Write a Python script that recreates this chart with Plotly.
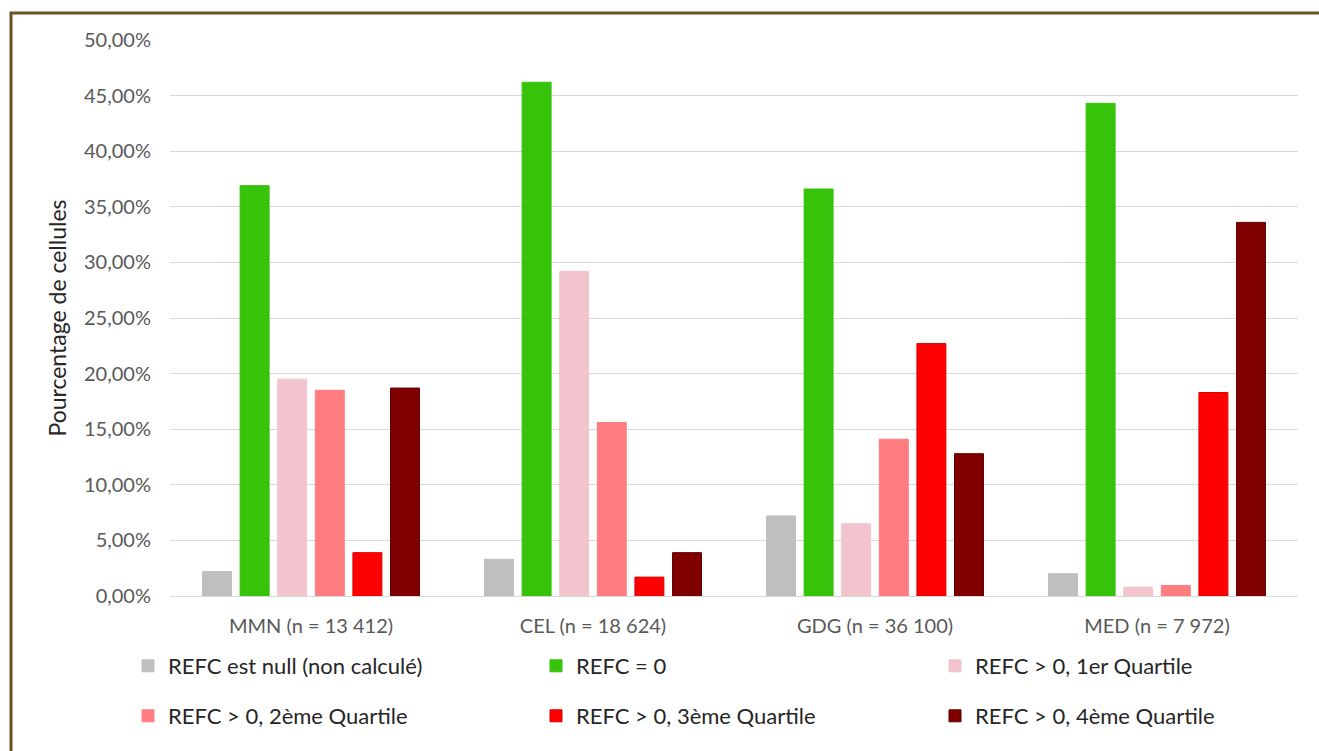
import plotly.graph_objects as go

# Sites and their cell counts
categories = ["MMN (n = 13 412)", "CEL (n = 18 624)", "GDG (n = 36 100)", "MED (n = 7 972)"]

# Share of cells per REFC class (fractions)
series_names = [
    "REFC est null (non calculé)",
    "REFC = 0",
    "REFC > 0, 1er Quartile",
    "REFC > 0, 2ème Quartile",
    "REFC > 0, 3ème Quartile",
    "REFC > 0, 4ème Quartile",
]
refc_null = [0.022, 0.033, 0.072, 0.020]
refc_zero = [0.369, 0.462, 0.366, 0.443]
refc_q1 = [0.195, 0.292, 0.065, 0.008]
refc_q2 = [0.185, 0.156, 0.141, 0.0095]
refc_q3 = [0.039, 0.017, 0.227, 0.183]
refc_q4 = [0.187, 0.039, 0.128, 0.336]

series_values = [refc_null, refc_zero, refc_q1, refc_q2, refc_q3, refc_q4]
colors = ["#BFBFBF", "#36C30A", "#F2C4CE", "#FF7C80", "#FF0000", "#800000"]
outlines = ["#BFBFBF", "#36C30A", "#F2C4CE", "#FF7C80", "#E00000", "#600000"]

y_ticks = [i * 0.05 for i in range(11)]

W, H = 1319, 751
L, R, T, B = 170, 21, 40, 155
PW, PH = W - L - R, H - T - B

def px_x(x):
    return (x - L) / PW

def px_y(y):
    return (H - B - y) / PH

FONT = "Lato"

# one legend box per entry: 3 columns x 2 rows under the plot
legend_cols = [128, 536, 935]
legend_rows = [666, 716]
legend_ids = ["legend"] + [f"legend{k}" for k in range(2, 7)]

fig = go.Figure()
for i, (name, vals) in enumerate(zip(series_names, series_values)):
    fig.add_trace(go.Bar(
        x=categories,
        y=vals,
        name=name,
        showlegend=True,
        marker=dict(color=colors[i], line=dict(color=outlines[i], width=1)),
        legend=legend_ids[i],
        hovertemplate="%{x}<br>%{y:.2%}<extra>" + name + "</extra>",
    ))

legend_layout = {}
for i, lid in enumerate(legend_ids):
    legend_layout[lid] = dict(
        x=px_x(legend_cols[i % 3]),
        y=px_y(legend_rows[i // 3]),
        xanchor="left",
        yanchor="middle",
        orientation="h",
        font=dict(family=FONT, size=22, color="#262626"),
        itemwidth=30,
        bgcolor="rgba(0,0,0,0)",
    )

fig.update_layout(
    width=W,
    height=H,
    margin=dict(l=L, r=R, t=T, b=B),
    paper_bgcolor="white",
    plot_bgcolor="white",
    showlegend=True,
    separators=", ",
    barmode="group",
    bargap=0.2,
    bargroupgap=0.23,
    font=dict(family=FONT),
    xaxis=dict(
        showgrid=False,
        showline=True,
        linecolor="#D9D9D9",
        linewidth=1,
        ticks="",
        tickfont=dict(family=FONT, size=20, color="#595959"),
        ticklabelstandoff=12,
    ),
    yaxis=dict(
        range=[0, 0.5],
        tickvals=y_ticks,
        tickformat=".2%",
        showgrid=True,
        gridcolor="#D9D9D9",
        gridwidth=1,
        zeroline=False,
        showline=False,
        ticks="",
        tickfont=dict(family=FONT, size=20, color="#595959"),
        ticklabelstandoff=18,
        title=dict(
            text="Pourcentage de cellules",
            font=dict(family=FONT, size=23, color="#262626"),
            standoff=10,
        ),
    ),
    shapes=[
        dict(
            type="rect",
            xref="paper",
            yref="paper",
            x0=px_x(11),
            x1=px_x(1335),
            y0=px_y(770),
            y1=px_y(13),
            line=dict(color="#6B5020", width=3),
            fillcolor="rgba(0,0,0,0)",
            layer="below",
        )
    ],
    **legend_layout,
)

fig.write_html("out.html")
